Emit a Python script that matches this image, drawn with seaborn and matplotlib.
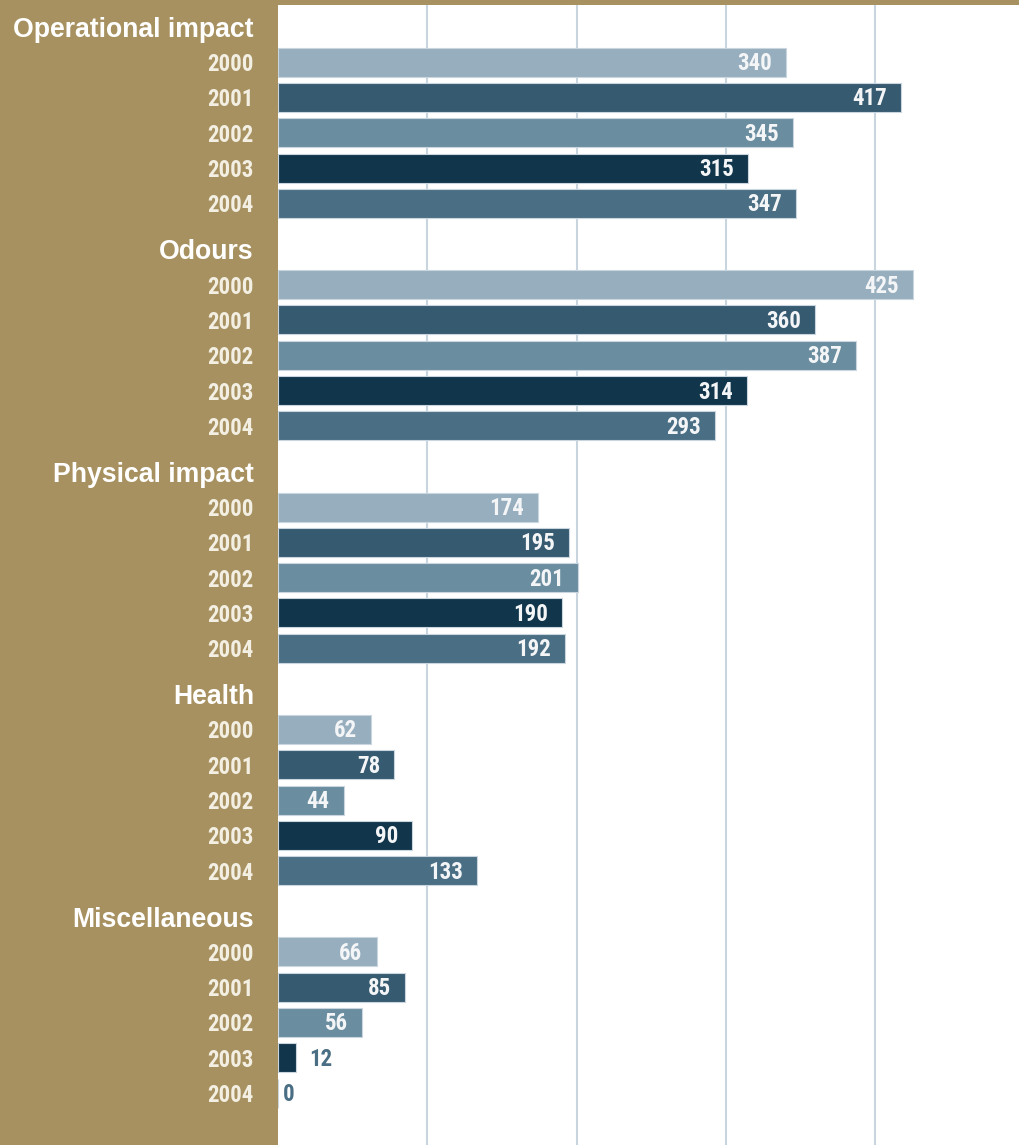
import matplotlib
matplotlib.use("Agg")
import matplotlib.pyplot as plt
import seaborn as sns
import pandas as pd
import numpy as np
from matplotlib.transforms import offset_copy

categories = ["Operational impact", "Odours", "Physical impact", "Health", "Miscellaneous"]
years = ["2000", "2001", "2002", "2003", "2004"]
operational = [340, 417, 345, 315, 347]
odours = [425, 360, 387, 314, 293]
physical = [174, 195, 201, 190, 192]
health = [62, 78, 44, 90, 133]
misc = [66, 85, 56, 12, 0]
series = [operational, odours, physical, health, misc]

palette = {"2000": "#97AEBE", "2001": "#365A70", "2002": "#6A8EA0",
           "2003": "#11364B", "2004": "#4A6E84"}
TAN = "#A79160"
LABEL = "#F3EFE3"

GROUP_STEP = 6.3
rows = []
tick_pos, tick_lab, tick_kind = [], [], []
for g, (cat, vals) in enumerate(zip(categories, series)):
    base = g * GROUP_STEP
    tick_pos.append(base); tick_lab.append(cat); tick_kind.append("h")
    for i, (yr, v) in enumerate(zip(years, vals)):
        pos = round(base + 1 + i, 3)
        rows.append({"pos": pos, "value": v, "year": yr})
        tick_pos.append(pos); tick_lab.append(yr); tick_kind.append("y")
df = pd.DataFrame(rows)

sns.set_style("white")
fig = plt.figure(figsize=(10.19, 11.45), dpi=100)
fig.patch.set_facecolor(TAN)
W, H = 1019, 1145
ax = fig.add_axes([278 / W, 0, (W - 278) / W, (H - 5) / H])
ax.set_facecolor("white")

sns.barplot(data=df, x="value", y="pos", hue="year", palette=palette, orient="h",
            native_scale=True, dodge=False, width=0.82, legend=False, ax=ax,
            edgecolor="#C9D6DF", linewidth=0.8, saturation=1, errorbar=None, zorder=3)

ax.set_xlim(0, 496.3)
ax.set_ylim(4 * GROUP_STEP + 5 + 1.47, -0.62)
ax.set_xticks([100, 200, 300, 400])
ax.set_xticklabels([])
ax.tick_params(axis="x", length=0)
ax.grid(axis="x", color="#C8D5DF", linewidth=1.5, zorder=0)
ax.grid(axis="y", visible=False)
ax.set_axisbelow(True)
for s in ax.spines.values():
    s.set_visible(False)
ax.set_xlabel("")
ax.set_ylabel("")

narrow = ["Roboto Condensed", "DejaVu Sans"]
NSIZE = 16.5
ax.set_yticks(tick_pos)
ax.set_yticklabels(tick_lab)
ax.tick_params(axis="y", length=0, pad=17.3)
for lab, kind in zip(ax.get_yticklabels(), tick_kind):
    lab.set_fontweight("bold")
    if kind == "h":
        lab.set_color("white")
        lab.set_fontfamily(["Liberation Sans", "DejaVu Sans"])
        lab.set_fontsize(19.2)
    else:
        lab.set_color(LABEL)
        lab.set_fontfamily(narrow)
        lab.set_fontsize(NSIZE)

# value labels
for _, r in df.iterrows():
    v = r["value"]
    if v >= 30:
        tr = offset_copy(ax.transData, fig=fig, x=-14, y=-1.5, units="dots")
        ax.text(v, r["pos"], f"{v}", transform=tr, ha="right", va="center",
                color="#F3F5F7", fontsize=NSIZE, fontweight="bold", family=narrow, zorder=5)
    else:
        off = 13 if v > 0 else 5
        tr = offset_copy(ax.transData, fig=fig, x=off, y=-1.5, units="dots")
        ax.text(v, r["pos"], f"{v}", transform=tr, ha="left", va="center",
                color="#4A6E84", fontsize=NSIZE, fontweight="bold", family=narrow, zorder=5)

fig.savefig("out.png", dpi=100, facecolor=TAN)
